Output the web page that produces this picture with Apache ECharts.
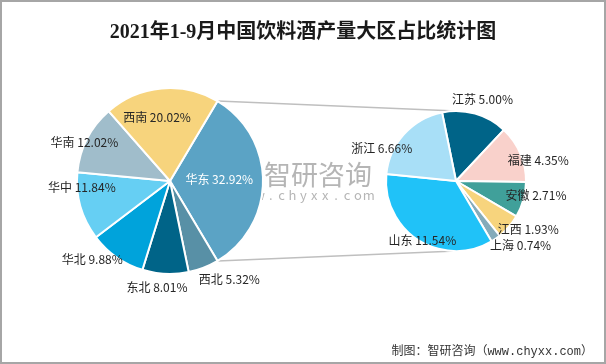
<!DOCTYPE html>
<html><head><meta charset="utf-8">
<script src="https://cdn.jsdelivr.net/npm/echarts@6/dist/echarts.min.js"></script>
<style>html,body{margin:0;padding:0;background:#fff}#c{width:606px;height:364px}</style>
</head><body><div id="c"></div>
<script>
// ---- data ----
const titleText = '2021年1-9月中国饮料酒产量大区占比统计图';
const regionNames = ['华东', '西北', '东北', '华北', '华中', '华南', '西南'];
const regionValues = [32.92, 5.32, 8.01, 9.88, 11.84, 12.02, 20.02];
const provinceNames = ['江苏', '福建', '安徽', '江西', '上海', '山东', '浙江'];
const provinceValues = [5.00, 4.35, 2.71, 1.93, 0.74, 11.54, 6.66];
const sourceText = '制图：智研咨询（www.chyxx.com）';
const watermarkName = '智研咨询';
const watermarkUrl = 'www.chyxx.com';

// ---- style ----
const regionColors = ['#5BA3C5', '#5890A6', '#006488', '#00A3DB', '#66CFF3', '#A0BDCB', '#F7D47D'];
const provinceColors = ['#006488', '#F9D1CB', '#40A09A', '#F7D47D', '#84ABBA', '#20C2F8', '#A8DFF7'];
// label placement: [angle clockwise from north (deg), radius factor]
const regionLabelPos = [[88, 0.53], [149, 1.24], [187, 1.15], [224.6, 1.19], [266, 0.95], [294.4, 1.01], [348.5, 0.70]];
const provinceLabelPos = [[17.9, 1.23], [76.1, 1.21], [100, 1.16], [123.6, 1.24], [134.8, 1.30], [209.7, 0.97], [293.8, 1.16]];

const C1 = [170, 181], R1 = 93;
const C2 = [456, 181], R2 = 70;
const FONT = '"Noto Sans CJK SC", "Noto Sans", sans-serif';
const WM = 'rgba(120,120,120,0.55)';

const total = regionValues.reduce((a, b) => a + b, 0);
const halfSpan = 180 * regionValues[0] / total; // degrees
const leftStart = halfSpan;
const rightStart = 101.5;

function placeLabels(c, R, pos) {
  return function (p) {
    const a = pos[p.dataIndex][0] * Math.PI / 180, k = pos[p.dataIndex][1];
    return { x: c[0] + k * R * Math.sin(a), y: c[1] - k * R * Math.cos(a), align: 'center', verticalAlign: 'middle' };
  };
}
function fmt(p) { return p.name + ' ' + Number(p.value).toFixed(2) + '%'; }

const hs = halfSpan * Math.PI / 180;
const pTop = [C1[0] + R1 * Math.cos(hs), C1[1] - R1 * Math.sin(hs)];
const pBot = [C1[0] + R1 * Math.cos(hs), C1[1] + R1 * Math.sin(hs)];

const urlChars = watermarkUrl.split('').map((ch, i) => ({
  type: 'text', style: { x: 238 + i * 10.9, y: 195, text: ch, fill: WM, fontSize: 13, fontFamily: FONT, verticalAlign: 'middle', align: 'center' }
}));

const chart = echarts.init(document.getElementById('c'), null, { renderer: 'canvas' });
chart.setOption({
  animation: false,
  backgroundColor: '#fff',
  title: {
    text: titleText, left: 'center', top: 18,
    textStyle: { fontSize: 20, fontWeight: 'bold', color: '#1a1a1a', fontFamily: '"Liberation Serif", "Noto Sans CJK SC", serif' }
  },
  series: [
    {
      type: 'pie', z: 2, center: C1, radius: R1, startAngle: leftStart, clockwise: true,
      avoidLabelOverlap: false,
      itemStyle: { borderColor: '#fff', borderWidth: 2 },
      label: { show: true, position: 'inside', formatter: fmt, color: '#262626', fontSize: 12, fontFamily: FONT },
      labelLine: { show: false },
      labelLayout: placeLabels(C1, R1, regionLabelPos),
      emphasis: { disabled: true },
      data: regionNames.map((n, i) => ({
        name: n, value: regionValues[i], itemStyle: { color: regionColors[i] },
        label: i === 0 ? { color: '#fff' } : {}
      }))
    },
    {
      type: 'pie', z: 2, center: C2, radius: R2, startAngle: rightStart, clockwise: true,
      avoidLabelOverlap: false,
      itemStyle: { borderColor: '#fff', borderWidth: 2 },
      label: { show: true, position: 'inside', formatter: fmt, color: '#262626', fontSize: 12, fontFamily: FONT },
      labelLine: { show: false },
      labelLayout: placeLabels(C2, R2, provinceLabelPos),
      emphasis: { disabled: true },
      data: provinceNames.map((n, i) => ({ name: n, value: provinceValues[i], itemStyle: { color: provinceColors[i] } }))
    }
  ],
  graphic: [
    { type: 'rect', z: 0, silent: true, shape: { x: 1, y: 1, width: 604, height: 362 }, style: { fill: 'none', stroke: '#A6A6A6', lineWidth: 2 } },
    { type: 'line', z: 1, silent: true, shape: { x1: pTop[0], y1: pTop[1], x2: C2[0], y2: C2[1] - R2 }, style: { stroke: '#BFBFBF', lineWidth: 1.5 } },
    { type: 'line', z: 1, silent: true, shape: { x1: pBot[0], y1: pBot[1], x2: C2[0], y2: C2[1] + R2 }, style: { stroke: '#BFBFBF', lineWidth: 1.5 } },
    // watermark
    { type: 'group', z: 100, silent: true, children: [
      { type: 'rect', shape: { x: 233, y: 164, width: 17, height: 5 }, style: { fill: 'rgba(70,95,130,0.35)' } },
      { type: 'polygon', shape: { points: [[244, 169], [250, 169], [240, 182], [234, 182]] }, style: { fill: 'rgba(70,95,130,0.35)' } },
      { type: 'rect', shape: { x: 233, y: 182, width: 17, height: 5 }, style: { fill: 'rgba(70,95,130,0.35)' } },
      { type: 'rect', shape: { x: 254, y: 164, width: 6, height: 5 }, style: { fill: 'rgba(70,95,130,0.35)' } },
      { type: 'rect', shape: { x: 254, y: 172, width: 6, height: 15 }, style: { fill: 'rgba(70,95,130,0.35)' } },
      { type: 'text', style: { x: 264, y: 175, text: watermarkName, fill: WM, fontSize: 27, fontFamily: FONT, verticalAlign: 'middle', align: 'left' } }
    ].concat(urlChars) },
    { type: 'text', z: 100, silent: true, style: { x: 593, y: 352, text: sourceText, fill: '#333', fontSize: 12, fontFamily: '"Liberation Mono", "Noto Sans CJK SC", monospace', align: 'right', verticalAlign: 'middle' } }
  ]
});
</script>
</body></html>
